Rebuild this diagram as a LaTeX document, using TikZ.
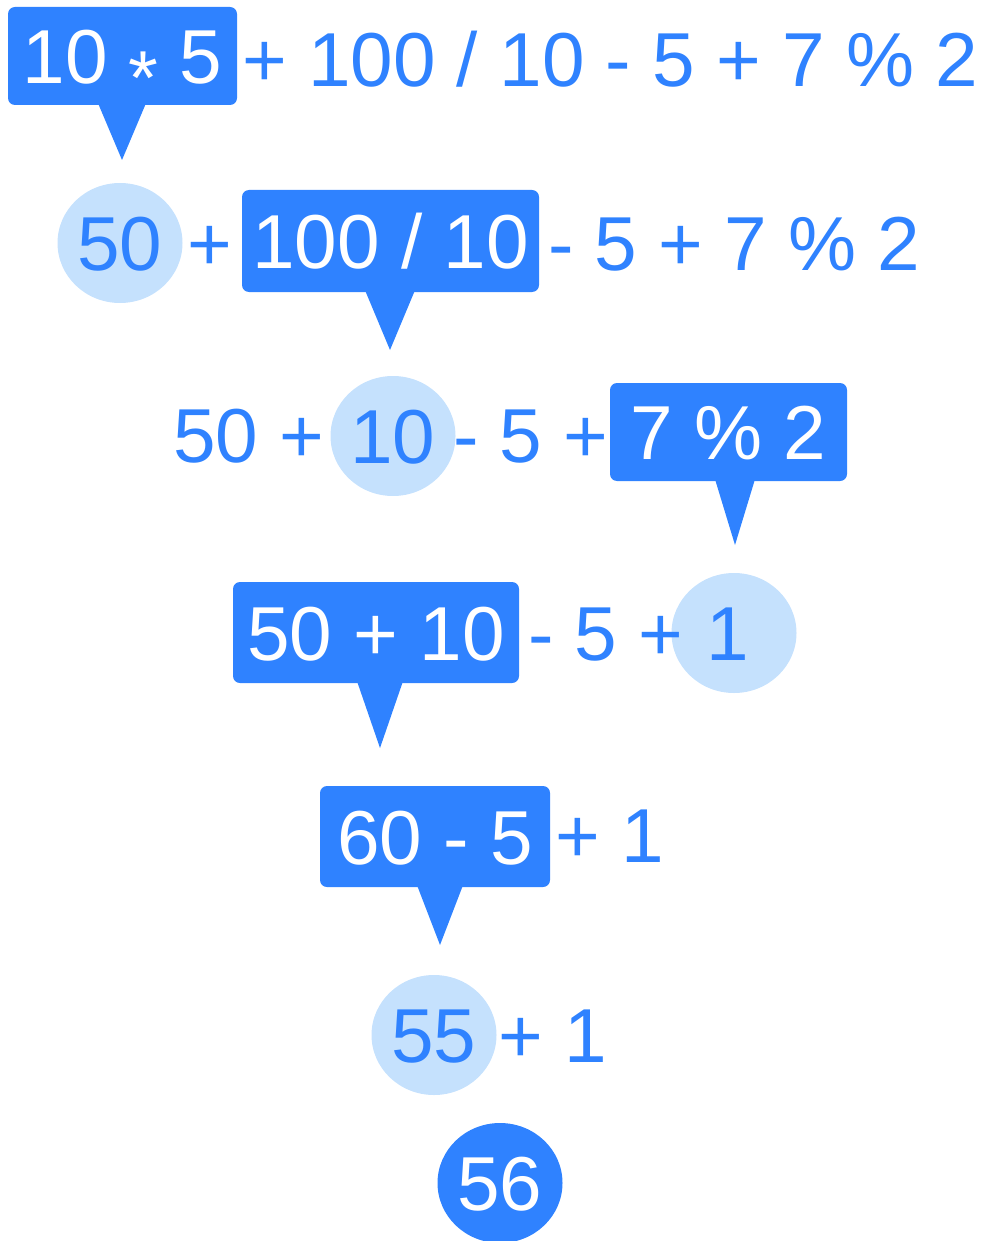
\documentclass[tikz,border=0pt]{standalone}
\usepackage{fontspec}
\setmainfont{Liberation Sans}
\usepackage{xcolor}
\definecolor{opblue}{HTML}{2F82FF}
\definecolor{oplight}{HTML}{C5E1FD}
\usetikzlibrary{shapes.geometric,calc}

\begin{document}
\begin{tikzpicture}[
  x=1pt, y=-1pt,
  font=\fontsize{76.5}{90}\selectfont,
  expr/.style={text=opblue, inner sep=0pt, anchor=base west},
  redex/.style={fill=opblue, text=white, rounded corners=7pt, inner sep=0pt, text height=55pt, text depth=0pt},
  res/.style={ellipse, fill=oplight, text=opblue, inner sep=0pt, minimum width=125pt, minimum height=120pt, text height=55pt, text depth=0pt},
  final/.style={res, fill=opblue, text=white},
  tail/.style={fill=opblue},
]
  \useasboundingbox (0,0) rectangle (985,1241);
  % step 1
  \node[redex, minimum width=229pt, minimum height=98pt] (mul) at (122.5,56) {10 \raisebox{-0.28em}{*} 5};
  \node[expr] (rest1) at (242,87) {+ 100 / 10 - 5 + 7 \% 2};
  \coordinate (tip1) at (122,160);
  \fill[tail] ($(mul.south -| tip1)+(-24,-2)$) -- (tip1) -- ($(mul.south -| tip1)+(24,-2)$) -- cycle;
  % step 2
  \node[res] (r50) at (120,243) {50};
  \node[expr] (plus2) at (187,270) {+};
  \node[redex, minimum width=297pt, minimum height=102pt] (div) at (390.5,241) {100 / 10};
  \node[expr] (rest2) at (548,270) {- 5 + 7 \% 2};
  \coordinate (tip2) at (390,350);
  \fill[tail] ($(div.south -| tip2)+(-25,-2)$) -- (tip2) -- ($(div.south -| tip2)+(25,-2)$) -- cycle;
  % step 3
  \node[res] (r10) at (393,436) {10};
  \node[expr] (head3) at (173,462) {50 +};
  \node[expr] (mid3) at (453,462) {- 5 +};
  \node[redex, minimum width=237pt, minimum height=98pt] (mod) at (728.5,432) {7 \% 2};
  \coordinate (tip3) at (735,545);
  \fill[tail] ($(mod.south -| tip3)+(-20,-2)$) -- (tip3) -- ($(mod.south -| tip3)+(20,-2)$) -- cycle;
  % step 4
  \node[res] (r1) at (734,633) {\hspace*{-12pt}1};
  \node[redex, minimum width=286pt, minimum height=101pt] (add) at (376,632.5) {50 + 10};
  \node[expr] (mid4) at (528,660) {- 5 +};
  \coordinate (tip4) at (380,748);
  \fill[tail] ($(add.south -| tip4)+(-23,-2)$) -- (tip4) -- ($(add.south -| tip4)+(23,-2)$) -- cycle;
  % step 5
  \node[redex, minimum width=230pt, minimum height=101pt] (sub) at (435,836.5) {60 - 5};
  \node[expr] (tail5) at (555,862) {+ 1};
  \coordinate (tip5) at (440,945);
  \fill[tail] ($(sub.south -| tip5)+(-23,-2)$) -- (tip5) -- ($(sub.south -| tip5)+(23,-2)$) -- cycle;
  % step 6
  \node[res] (r55) at (434,1035) {55};
  \node[expr] (tail6) at (498,1062) {+ 1};
  % result
  \node[final] (r56) at (500,1183) {56};
\end{tikzpicture}
\end{document}
